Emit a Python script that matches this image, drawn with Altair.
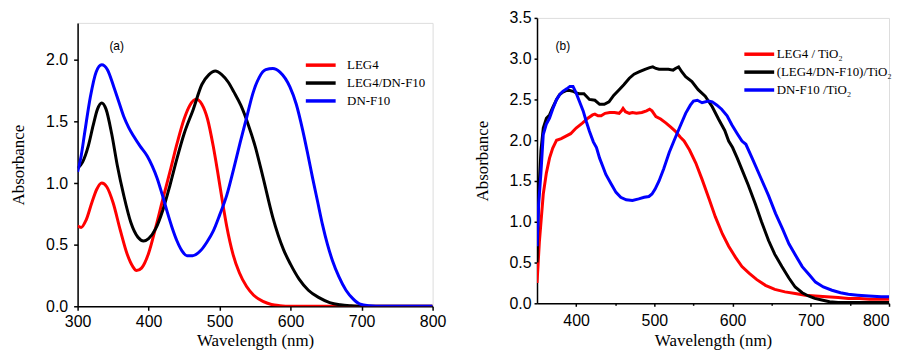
import altair as alt
import pandas as pd

# ---------------- Panel (a): solution spectra ----------------
a_names = ["LEG4", "LEG4/DN-F10", "DN-F10"]
a_colors = ["#ff0000", "#000000", "#0000ff"]

a_leg4_wl = [300, 305, 312, 320, 327, 334, 341, 350, 360, 370, 378, 383, 390, 400, 410, 420,
             430, 440, 450, 458, 467, 475, 483, 491, 497, 504, 510, 519, 528, 538, 548, 561,
             573, 585, 600, 650, 700, 800]
a_leg4_abs = [0.65, 0.64, 0.70, 0.84, 0.95, 1.00, 0.97, 0.84, 0.62, 0.42, 0.32, 0.29, 0.31, 0.43,
              0.64, 0.87, 1.09, 1.32, 1.52, 1.63, 1.68, 1.64, 1.52, 1.30, 1.10, 0.85, 0.65, 0.42,
              0.27, 0.16, 0.09, 0.04, 0.015, 0.005, 0.0, 0.0, 0.0, 0.0]

a_mix_wl = [300, 307, 315, 322, 328, 334, 340, 348, 356, 365, 375, 385, 393, 400, 410, 420,
            430, 440, 450, 463, 475, 485, 494, 503, 512, 520, 530, 540, 550, 561, 575, 590,
            600, 612, 625, 640, 655, 670, 685, 700, 720, 800]
a_mix_abs = [1.12, 1.17, 1.30, 1.47, 1.60, 1.65, 1.60, 1.40, 1.14, 0.90, 0.68, 0.56, 0.53, 0.55,
             0.63, 0.78, 0.98, 1.20, 1.40, 1.60, 1.80, 1.88, 1.91, 1.88, 1.82, 1.74, 1.63, 1.48,
             1.30, 1.05, 0.72, 0.46, 0.34, 0.22, 0.13, 0.07, 0.03, 0.012, 0.004, 0.0, 0.0, 0.0]

a_dn_wl = [300, 305, 310, 318, 326, 334, 342, 351, 358, 365, 372, 379, 388, 398, 405, 412,
           419, 426, 433, 440, 447, 454, 462, 473, 482, 491, 500, 510, 520, 529, 538, 547,
           556, 565, 575, 585, 599, 608, 617, 624, 631, 638, 645, 652, 659, 668, 678, 688,
           697, 710, 730, 800]
a_dn_abs = [1.09, 1.22, 1.41, 1.70, 1.90, 1.96, 1.92, 1.78, 1.66, 1.54, 1.45, 1.38, 1.30, 1.22,
            1.14, 1.04, 0.91, 0.77, 0.64, 0.53, 0.45, 0.41, 0.41, 0.45, 0.52, 0.61, 0.74, 0.90,
            1.12, 1.33, 1.53, 1.73, 1.86, 1.92, 1.93, 1.90, 1.78, 1.64, 1.43, 1.24, 1.04, 0.85,
            0.66, 0.50, 0.37, 0.24, 0.13, 0.06, 0.02, 0.005, 0.0, 0.0]

a_x_ticks = [300, 350, 400, 450, 500, 550, 600, 650, 700, 750, 800]
a_y_ticks = [0.0, 0.25, 0.5, 0.75, 1.0, 1.25, 1.5, 1.75, 2.0, 2.25]
a_note = ["(a)"]
a_note_wl = [355]
a_note_abs = [2.11]

# ---------------- Panel (b): dyes on TiO2 ----------------
b_names = ["LEG4 / TiO\u2082", "(LEG4/DN-F10)/TiO\u2082", "DN-F10 /TiO\u2082"]
b_colors = ["#ff0000", "#000000", "#0000ff"]

b_leg4_wl = [350, 353, 358, 362, 366, 370, 375, 381, 387, 393, 400, 408, 415, 421, 424, 428,
             432, 437, 443, 449, 455, 458, 460, 463, 468, 472, 477, 484, 490, 494, 497, 502,
             508, 515, 521, 527, 533, 538, 545, 553, 561, 570, 578, 587, 595, 604, 612, 621,
             631, 642, 654, 667, 680, 693, 706, 720, 735, 748, 762, 775, 790, 800]
b_leg4_abs = [0.25, 0.75, 1.34, 1.60, 1.78, 1.90, 2.00, 2.02, 2.05, 2.08, 2.15, 2.21, 2.27, 2.31,
              2.32, 2.30, 2.30, 2.33, 2.34, 2.34, 2.33, 2.36, 2.39, 2.35, 2.33, 2.34, 2.33, 2.34,
              2.36, 2.38, 2.36, 2.29, 2.26, 2.21, 2.16, 2.11, 2.04, 1.99, 1.88, 1.72, 1.52, 1.28,
              1.06, 0.85, 0.70, 0.56, 0.45, 0.37, 0.29, 0.22, 0.17, 0.14, 0.12, 0.10, 0.09, 0.08,
              0.07, 0.06, 0.06, 0.05, 0.05, 0.05]

b_mix_wl = [350, 352, 355, 358, 362, 366, 370, 375, 379, 383, 388, 392, 396, 400, 404, 410,
            417, 424, 430, 436, 442, 448, 455, 461, 468, 474, 481, 488, 494, 498, 502, 506,
            512, 518, 524, 527, 531, 535, 540, 548, 556, 565, 574, 582, 590, 595, 600, 606,
            612, 620, 629, 637, 646, 654, 663, 672, 680, 689, 697, 705, 714, 724, 735, 750,
            770, 800]
b_mix_abs = [0.50, 1.30, 1.87, 2.15, 2.27, 2.31, 2.40, 2.50, 2.56, 2.59, 2.61, 2.61, 2.60, 2.58,
             2.57, 2.57, 2.50, 2.49, 2.44, 2.44, 2.47, 2.55, 2.62, 2.68, 2.76, 2.81, 2.84, 2.87,
             2.89, 2.90, 2.88, 2.87, 2.87, 2.87, 2.86, 2.88, 2.90, 2.84, 2.78, 2.72, 2.62, 2.54,
             2.41, 2.26, 2.12, 1.99, 1.91, 1.78, 1.64, 1.45, 1.22, 1.00, 0.77, 0.60, 0.45, 0.31,
             0.20, 0.13, 0.09, 0.06, 0.04, 0.02, 0.01, 0.01, 0.01, 0.01]

b_dn_wl = [350, 352, 355, 358, 362, 366, 370, 375, 379, 383, 388, 392, 396, 400, 404, 409,
           413, 417, 422, 426, 430, 434, 438, 445, 451, 457, 464, 472, 480, 487, 493, 497,
           501, 506, 512, 519, 525, 532, 540, 546, 550, 555, 561, 569, 574, 580, 586, 593,
           599, 606, 612, 617, 625, 636, 646, 655, 664, 672, 681, 689, 698, 706, 716, 727,
           738, 748, 760, 774, 790, 800]
b_dn_abs = [0.70, 1.20, 1.60, 2.07, 2.20, 2.27, 2.38, 2.50, 2.56, 2.60, 2.63, 2.66, 2.66, 2.58,
            2.48, 2.36, 2.23, 2.11, 1.98, 1.91, 1.78, 1.68, 1.58, 1.46, 1.36, 1.30, 1.27, 1.26,
            1.28, 1.30, 1.31, 1.34, 1.40, 1.50, 1.65, 1.85, 1.99, 2.15, 2.33, 2.43, 2.48, 2.49,
            2.46, 2.48, 2.47, 2.43, 2.38, 2.30, 2.19, 2.08, 1.99, 1.95, 1.78, 1.54, 1.32, 1.10,
            0.91, 0.73, 0.58, 0.45, 0.35, 0.26, 0.20, 0.16, 0.13, 0.11, 0.10, 0.09, 0.08, 0.08]

b_x_ticks = [400, 450, 500, 550, 600, 650, 700, 750, 800]
b_y_ticks = [0.0, 0.25, 0.5, 0.75, 1.0, 1.25, 1.5, 1.75, 2.0, 2.25, 2.5, 2.75, 3.0, 3.25, 3.5]
b_note = ["(b)"]
b_note_wl = [383]
b_note_abs = [3.15]


def series_frame(names, wls, vals):
    rows = []
    for i, (n, w, v) in enumerate(zip(names, wls, vals)):
        for x, y in zip(w, v):
            rows.append({"series": n, "wl": x, "abs": y, "k": i})
    return pd.DataFrame(rows)


SANS = "Liberation Sans"
SERIF = "Liberation Serif"


def axis(values, title, minor_test, label_expr, tick, pad, title_pad, flush=False):
    return alt.Axis(values=values, title=title, grid=False, labelExpr=label_expr,
                    domainColor="black", domainWidth=1.5, tickColor="black",
                    tickWidth=1.5,
                    tickSize={"condition": {"test": minor_test, "value": 2}, "value": tick},
                    labelPadding=pad,
                    labelFont=SANS, labelFontSize=16, labelColor="black",
                    titleFont=SERIF, titleFontSize=17, titleFontWeight="normal",
                    titleColor="black", titlePadding=title_pad, labelFlush=flush,
                    labelFlushOffset=0, labelOverlap=False)


X_MINOR = "datum.value % 100 != 0"
X_LABEL = "datum.value % 100 == 0 ? format(datum.value, 'd') : ''"
Y_MINOR = "(datum.value * 2) % 1 != 0"
Y_LABEL = "(datum.value * 2) % 1 == 0 ? format(datum.value, '.1f') : ''"


def panel(names, colors, wls, vals, xdom, ydom, xticks, yticks, note, note_wl, note_abs,
          width, height, legx, legy, interp, tick, xpad, ypad, xtp, ytp, loff, rowpad, flush):
    df = series_frame(names, wls, vals)
    xs = alt.Scale(domain=xdom, nice=False, zero=False)
    ys = alt.Scale(domain=ydom, nice=False, zero=False)
    lines = alt.Chart(df).mark_line(strokeWidth=3, interpolate=interp, clip=True).encode(
        x=alt.X("wl:Q", scale=xs,
                axis=axis(xticks, "Wavelength (nm)", X_MINOR, X_LABEL, tick, xpad, xtp, flush)),
        y=alt.Y("abs:Q", scale=ys,
                axis=axis(yticks, "Absorbance", Y_MINOR, Y_LABEL, tick, ypad, ytp)),
        color=alt.Color("series:N", scale=alt.Scale(domain=names, range=colors),
                        legend=alt.Legend(title=None, orient="none", legendX=legx, legendY=legy,
                                          symbolType="M-2,0H2", symbolSize=225,
                                          symbolStrokeWidth=3.5, labelFont=SERIF,
                                          labelFontSize=13, labelColor="black",
                                          labelOffset=loff, rowPadding=rowpad, padding=0,
                                          values=names)),
        order=alt.Order("wl:Q"),
        detail="k:N",
    )
    ndf = pd.DataFrame({"t": note, "wl": note_wl, "abs": note_abs})
    txt = alt.Chart(ndf).mark_text(font=SANS, fontSize=12, color="black").encode(
        x=alt.X("wl:Q", scale=xs), y=alt.Y("abs:Q", scale=ys), text="t:N")
    return alt.layer(lines, txt).properties(width=width, height=height)


left = panel(a_names, a_colors, [a_leg4_wl, a_mix_wl, a_dn_wl],
             [a_leg4_abs, a_mix_abs, a_dn_abs], [300, 800], [0, 2.3], a_x_ticks, a_y_ticks,
             a_note, a_note_wl, a_note_abs, 357, 285, 235, 38, "monotone", 4, 3, 6, 3, 18,
             17, 1, False)

# empty strip above panel (a) so its frame starts a little lower than panel (b)
gap = alt.Chart(pd.DataFrame({"s": [0]})).mark_point(opacity=0, size=1).encode(
    x=alt.value(5), y=alt.value(1)).properties(
    width=357, height=3, view=alt.ViewBackground(stroke="transparent"))
left_col = alt.vconcat(gap, left, spacing=0)

right = panel(b_names, b_colors, [b_leg4_wl, b_mix_wl, b_dn_wl],
              [b_leg4_abs, b_mix_abs, b_dn_abs], [350, 800], [0, 3.5], b_x_ticks, b_y_ticks,
              b_note, b_note_wl, b_note_abs, 354, 287, 214, 27, "linear", 3, 6, 3, 4, 18,
              8, 1, True)

chart = alt.hconcat(left_col, right, spacing=26).resolve_scale(
    color="independent").resolve_legend(color="independent").properties(
    padding={"left": 1, "top": 0, "right": 0, "bottom": 0}).configure_view(
    stroke="black", strokeWidth=1.5).configure(background="white")

chart.save("out.html", embed_options={"renderer": "svg", "actions": False})
